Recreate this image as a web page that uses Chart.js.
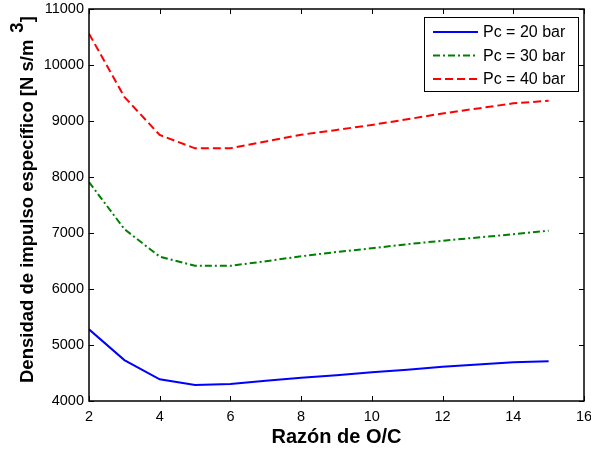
<!DOCTYPE html>
<html>
<head>
<meta charset="utf-8">
<script src="https://cdn.jsdelivr.net/npm/chart.js@4/dist/chart.umd.min.js"></script>
<style>
  html, body { margin: 0; padding: 0; background: #fff; }
  #wrap { position: relative; width: 591px; height: 450px; }
</style>
</head>
<body>
<div id="wrap"><canvas id="chart"></canvas></div>
<script>
// Data
const ratioOC = [2, 3, 4, 5, 6, 7, 8, 9, 10, 11, 12, 13, 14, 15];
const pc20 = [5280, 4730, 4387, 4285, 4304, 4360, 4414, 4458, 4512, 4558, 4612, 4652, 4690, 4712];
const pc30 = [7910, 7070, 6577, 6414, 6414, 6495, 6585, 6660, 6727, 6800, 6862, 6920, 6978, 7040];
const pc40 = [10560, 9430, 8750, 8512, 8512, 8635, 8755, 8840, 8930, 9030, 9135, 9225, 9315, 9362];
const seriesLabels = ["Pc = 20 bar", "Pc = 30 bar", "Pc = 40 bar"];
const xTitle = "Razón de O/C";
const yTitle = "Densidad de impulso específico [N s/m";

const FONT = "'Liberation Sans', Arial, sans-serif";

function points(ys) {
  return ratioOC.map((x, i) => ({ x: x, y: ys[i] }));
}

// box, inward ticks, titles and legend (MATLAB look)
const matlabFrame = {
  id: "matlabFrame",
  afterDatasetsDraw(chart) {
    const ctx = chart.ctx;
    const a = chart.chartArea;
    const xs = chart.scales.x;
    const ys = chart.scales.y;
    ctx.save();
    ctx.strokeStyle = "#000";
    ctx.lineWidth = 1;
    ctx.beginPath();
    xs.ticks.forEach((t) => {
      const px = Math.round(xs.getPixelForValue(t.value)) + 0.5;
      ctx.moveTo(px, a.bottom); ctx.lineTo(px, a.bottom - 5);
      ctx.moveTo(px, a.top); ctx.lineTo(px, a.top + 5);
    });
    ys.ticks.forEach((t) => {
      const py = Math.round(ys.getPixelForValue(t.value)) + 0.5;
      ctx.moveTo(a.left, py); ctx.lineTo(a.left + 5, py);
      ctx.moveTo(a.right, py); ctx.lineTo(a.right - 5, py);
    });
    ctx.stroke();
    ctx.lineWidth = 1.5;
    ctx.strokeRect(a.left, a.top, a.right - a.left, a.bottom - a.top);

    // legend
    const lx = 424, ly = 17, lw = 154, lh = 74;
    ctx.fillStyle = "#fff";
    ctx.fillRect(lx, ly, lw, lh);
    ctx.lineWidth = 1;
    ctx.strokeRect(lx + 0.5, ly + 0.5, lw, lh);
    ctx.font = "16px " + FONT;
    ctx.textBaseline = "middle";
    chart.data.datasets.forEach((ds, i) => {
      const cy = 32 + i * 23.5;
      ctx.strokeStyle = ds.borderColor;
      ctx.lineWidth = ds.borderWidth;
      ctx.setLineDash(ds.borderDash || []);
      ctx.beginPath();
      ctx.moveTo(433, cy); ctx.lineTo(478, cy);
      ctx.stroke();
      ctx.setLineDash([]);
      ctx.fillStyle = "#000";
      ctx.fillText(ds.label, 483, cy + 1);
    });

    // axis titles
    ctx.fillStyle = "#000";
    ctx.font = "bold 20px " + FONT;
    ctx.textAlign = "center";
    ctx.textBaseline = "middle";
    ctx.fillText(xTitle, (a.left + a.right) / 2, 437);

    ctx.translate(33, 383);
    ctx.rotate(-Math.PI / 2);
    ctx.font = "bold 18.5px " + FONT;
    ctx.textAlign = "left";
    ctx.textBaseline = "alphabetic";
    ctx.fillText(yTitle, 0, 0);
    let w = ctx.measureText(yTitle).width + 7;
    ctx.fillText("3", w, -10);
    w += ctx.measureText("3").width;
    ctx.fillText("]", w, 0);
    ctx.restore();
  }
};

new Chart(document.getElementById("chart"), {
  type: "line",
  data: {
    datasets: [
      {
        label: seriesLabels[0],
        data: points(pc20),
        borderColor: "#0000ff",
        borderWidth: 2,
        pointRadius: 0,
        tension: 0
      },
      {
        label: seriesLabels[1],
        data: points(pc30),
        borderColor: "#008000",
        borderWidth: 2,
        borderDash: [7, 3, 2, 3],
        pointRadius: 0,
        tension: 0
      },
      {
        label: seriesLabels[2],
        data: points(pc40),
        borderColor: "#ff0000",
        borderWidth: 2,
        borderDash: [8, 4],
        pointRadius: 0,
        tension: 0
      }
    ]
  },
  options: {
    responsive: true,
    maintainAspectRatio: false,
    animation: false,
    layout: { padding: { top: 9, right: 7, left: 0, bottom: 0 } },
    plugins: {
      legend: { display: false },
      tooltip: { enabled: false }
    },
    scales: {
      x: {
        type: "linear",
        min: 2,
        max: 16,
        afterFit: (s) => {
          s.height = 49;
          s.paddingLeft = 0;
          s.paddingRight = 0;
        },
        grid: { display: false, drawTicks: false },
        border: { display: false },
        ticks: {
          stepSize: 2,
          padding: 7,
          color: "#000",
          font: { family: FONT, size: 14.5 },
          callback: (v) => String(v)
        }
      },
      y: {
        min: 4000,
        max: 11000,
        afterFit: (s) => {
          s.width = 89;
          s.paddingTop = 0;
          s.paddingBottom = 0;
        },
        grid: { display: false, drawTicks: false },
        border: { display: false },
        ticks: {
          stepSize: 1000,
          padding: 5,
          color: "#000",
          font: { family: FONT, size: 14.5 },
          callback: (v) => String(v)
        }
      }
    }
  },
  plugins: [matlabFrame]
});
</script>
</body>
</html>
